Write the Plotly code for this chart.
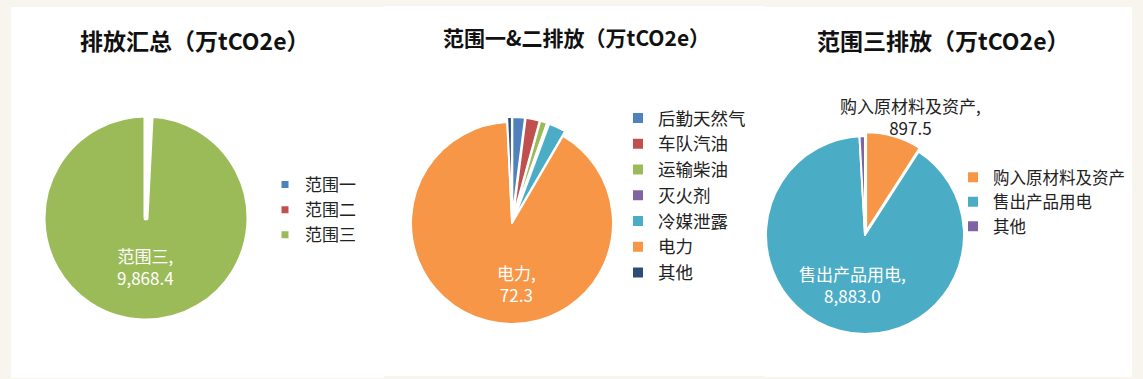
import plotly.graph_objects as go

W, H = 1143, 379

# ---------------- data ----------------
titles = ["排放汇总（万tCO2e）", "范围一&二排放（万tCO2e）", "范围三排放（万tCO2e）"]

total_labels = ["范围一", "范围二", "范围三"]
total_values = [6.7, 72.9, 9868.4]

s12_labels = ["后勤天然气", "车队汽油", "运输柴油", "灭火剂", "冷媒泄露", "电力", "其他"]
s12_values = [1.6, 1.8, 0.9, 0.2, 2.2, 72.3, 0.6]

s3_labels = ["购入原材料及资产", "售出产品用电", "其他"]
s3_values = [897.5, 8883.0, 87.9]

# ---------------- style ----------------
FONT = "Noto Sans CJK SC"
BG = "#f8f4ee"
C = {"blue": "#4f81bd", "red": "#c0504d", "green": "#9bbb59", "purple": "#8064a2",
     "aqua": "#4bacc6", "orange": "#f79646", "navy": "#2c4d75"}

def px_domain(cx, cy, r, pull):
    half = r * (1 + pull)
    return dict(x=[(cx - half) / W, (cx + half) / W],
                y=[(H - cy - half) / H, (H - cy + half) / H])

def lab(labels, values, i):
    return "%s,<br>%s" % (labels[i], f"{values[i]:,.1f}")

fig = go.Figure()

# pie 1
fig.add_trace(go.Pie(
    labels=total_labels, values=total_values, sort=False, direction="clockwise",
    rotation=0, domain=px_domain(146, 218, 103, 0),
    marker=dict(colors=[C["blue"], C["red"], C["green"]], line=dict(color="white", width=5)),
    textinfo="none", hoverinfo="label+value", legend="legend", legendgroup="g1",
))

# pie 2
p2 = [0.05, 0.05, 0.05, 0.05, 0.05, 0.0, 0.05]
fig.add_trace(go.Pie(
    labels=s12_labels, values=s12_values, sort=False, direction="clockwise",
    rotation=0, domain=px_domain(512, 223, 101, max(p2)), pull=p2,
    marker=dict(colors=[C["blue"], C["red"], C["green"], C["purple"], C["aqua"], C["orange"], C["navy"]],
                line=dict(color="white", width=2)),
    textinfo="none", legend="legend2", legendgroup="g2",
))

# pie 3
p3 = [0.04, 0.0, 0.0]
fig.add_trace(go.Pie(
    labels=s3_labels, values=s3_values, sort=False, direction="clockwise",
    rotation=0, domain=px_domain(865, 235, 99, max(p3)), pull=p3,
    marker=dict(colors=[C["orange"], C["aqua"], C["purple"]], line=dict(color="white", width=2)),
    textinfo="none", legend="legend3", legendgroup="g3",
))

# panels
shapes = []
for (x0, x1, y0, y1) in [(11, 384, 7, 378), (384, 764, 6, 376), (764, 1132, 7, 377)]:
    shapes.append(dict(type="rect", xref="paper", yref="paper", layer="below",
                       x0=x0 / W, x1=x1 / W, y0=1 - y1 / H, y1=1 - y0 / H,
                       fillcolor="white", line=dict(width=0)))

annotations = []
for t, (cx, cy), fs in zip(titles, [(195, 40), (576, 37), (943, 40)], [23, 21, 23]):
    annotations.append(dict(text="<b>%s</b>" % t, x=cx / W, y=1 - cy / H, xref="paper", yref="paper",
                            showarrow=False, xanchor="center", yanchor="middle",
                            font=dict(size=fs, color="#111111", family=FONT)))

# data labels
data_labels = [
    (lab(total_labels, total_values, 2), 145, 266, "white"),
    (lab(s12_labels, s12_values, 5), 516, 283, "white"),
    (lab(s3_labels, s3_values, 1), 852, 284, "white"),
    (lab(s3_labels, s3_values, 0), 910, 116, "#222222"),
]
for txt, x, y, col in data_labels:
    annotations.append(dict(text=txt, x=x / W, y=1 - y / H, xref="paper", yref="paper", showarrow=False,
                            xanchor="center", yanchor="middle",
                            font=dict(size=17, color=col, family=FONT)))

def leg(x, ytop, size):
    return dict(x=x / W, y=1 - ytop / H, xanchor="left", yanchor="top",
                bgcolor="rgba(0,0,0,0)", font=dict(size=size, color="#222222", family=FONT))

fig.update_layout(
    width=W, height=H, margin=dict(l=0, r=0, t=0, b=0),
    paper_bgcolor=BG, plot_bgcolor=BG,
    font=dict(family=FONT),
    shapes=shapes, annotations=annotations,
    legend=leg(265, 167, 17),
    legend2=leg(618, 100, 17.5),
    legend3=leg(953, 160, 16.5),
)

fig.write_html("out.html", config={"displayModeBar": False},
               post_script="document.body.style.margin='0';document.body.style.padding='0';")
